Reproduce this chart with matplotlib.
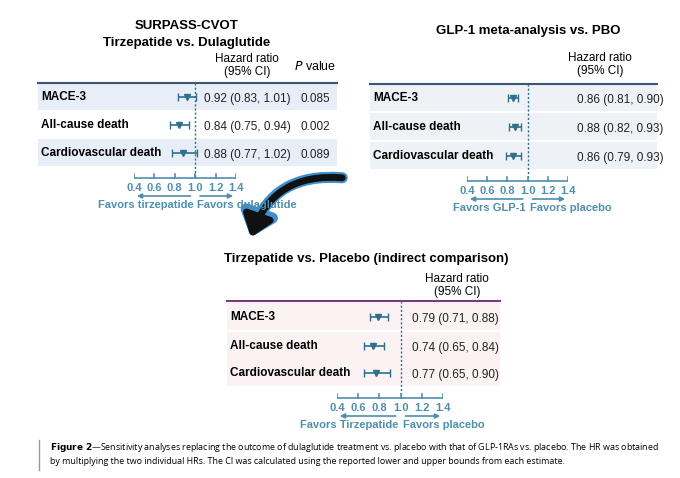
import matplotlib.pyplot as plt
from matplotlib.patches import Rectangle, FancyArrowPatch

W, H = 680, 478
outcomes = ["MACE-3", "All-cause death", "Cardiovascular death"]
hr1 = [0.92, 0.84, 0.88]; lo1 = [0.83, 0.75, 0.77]; hi1 = [1.01, 0.94, 1.02]; p1 = ["0.085", "0.002", "0.089"]
hr2 = [0.86, 0.88, 0.86]; lo2 = [0.81, 0.82, 0.79]; hi2 = [0.90, 0.93, 0.93]
hr3 = [0.79, 0.74, 0.77]; lo3 = [0.71, 0.65, 0.65]; hi3 = [0.88, 0.84, 0.90]
ticks = [0.4, 0.6, 0.8, 1.0, 1.2, 1.4]

fig = plt.figure(figsize=(6.8, 4.78), dpi=100)
bg = fig.add_axes([0, 0, 1, 1]); bg.set_xlim(0, W); bg.set_ylim(H, 0); bg.axis("off")
C = "#2f6f8c"; TC = "#4f8fae"; F = "Liberation Sans"

def panel(x0, x1, hx0, hx1, top, rows_y, hr, lo, hi, shade, linec, title, title_y, hrx, left_lab, right_lab, pvals=None, shade_rows=(0, 2)):
    bg.plot([x0, x1], [top, top], color=linec, lw=1.5)
    for i, y in enumerate(rows_y):
        if i in shade_rows:
            bg.add_patch(Rectangle((x0, y - 14), x1 - x0, 27, color=shade, lw=0))
        bg.text(x0 + 3, y, outcomes[i], fontsize=8.5, fontweight="bold", family=F, va="center")
        bg.text(hrx, y + 2, f"{hr[i]:.2f} ({lo[i]:.2f}, {hi[i]:.2f})", fontsize=8.5, family=F, va="center", ha="center", color="#222")
        if pvals:
            bg.text(x1 - 22, y + 2, pvals[i], fontsize=8.5, family=F, va="center", ha="center", color="#222")
    for t, y in title:
        bg.text(title_y, y, t, fontsize=9.5, fontweight="bold", family=F, ha="center", va="center")
    ax = fig.add_axes([hx0 / W, 0, (hx1 - hx0) / W, 1])
    ax.set_xlim(0.4, 1.4); ax.set_ylim(H, 0); ax.axis("off")
    ax.errorbar(hr, rows_y, xerr=[[h - l for h, l in zip(hr, lo)], [u - h for h, u in zip(hr, hi)]],
                fmt="v", color=C, ms=5, capsize=3, lw=1.2)
    ay = rows_y[-1] + 25
    ax.plot([1.0, 1.0], [top, ay], ls=(0, (1.5, 1.5)), color=C, lw=1)
    ax.plot([0.4, 1.4], [ay, ay], color=TC, lw=1.2)
    for t in ticks:
        ax.plot([t, t], [ay, ay - 4], color=TC, lw=1.2)
        ax.text(t, ay + 10, f"{t:.1f}", fontsize=8, fontweight="bold", color=TC, ha="center", va="center", family=F)
    ax.annotate("", xy=(0.4, ay + 18), xytext=(0.98, ay + 18), arrowprops=dict(arrowstyle="-|>", color=TC, lw=1.2, mutation_scale=7))
    ax.annotate("", xy=(1.4, ay + 18), xytext=(1.02, ay + 18), arrowprops=dict(arrowstyle="-|>", color=TC, lw=1.2, mutation_scale=7))
    ax.text(0.98, ay + 27, left_lab, fontsize=8, fontweight="bold", color=TC, ha="right", va="center", family=F)
    ax.text(1.02, ay + 27, right_lab, fontsize=8, fontweight="bold", color=TC, ha="left", va="center", family=F)

# Panel 1
panel(38, 337, 134, 236, 83, [97, 125, 153], hr1, lo1, hi1, "#e8eef7", "#3b5575",
      [("SURPASS-CVOT", 26), ("Tirzepatide vs. Dulaglutide", 43)], 187, 247,
      "Favors tirzepatide", "Favors dulaglutide", pvals=p1)
bg.text(247, 59, "Hazard ratio", fontsize=8.5, family=F, ha="center", va="center")
bg.text(247, 72, "(95% CI)", fontsize=8.5, family=F, ha="center", va="center")
bg.text(315, 66, "$\\it{P}$ value", fontsize=9, family=F, ha="center", va="center")

# Panel 2
panel(370, 657, 467, 568, 84, [98, 127, 156], hr2, lo2, hi2, "#eef1f6", "#3b5575",
      [("GLP-1 meta-analysis vs. PBO", 31)], 528, 620,
      "Favors GLP-1", "Favors placebo", shade_rows=(0, 1, 2))
bg.text(600, 58, "Hazard ratio", fontsize=8.5, family=F, ha="center", va="center")
bg.text(600, 71, "(95% CI)", fontsize=8.5, family=F, ha="center", va="center")

# Panel 3
panel(227, 500, 337, 443, 301, [317, 346, 373], hr3, lo3, hi3, "#fbf2f4", "#7b3a7c",
      [("Tirzepatide vs. Placebo (indirect comparison)", 259)], 366, 455,
      "Favors Tirzepatide", "Favors placebo", shade_rows=(0, 1, 2))
bg.text(457, 279, "Hazard ratio", fontsize=8.5, family=F, ha="center", va="center")
bg.text(457, 292, "(95% CI)", fontsize=8.5, family=F, ha="center", va="center")

# curved arrow
for lw, col, hw in [(8, "#3d8fd0", 1.0), (5, "#111", 0.9)]:
    bg.add_patch(FancyArrowPatch((345, 178), (250, 240), connectionstyle="arc3,rad=0.4",
                                 arrowstyle=f"-|>,head_width={hw},head_length=1.2", color=col, lw=lw, mutation_scale=10))

# caption
bg.plot([39, 39], [440, 470], color="#999", lw=1)
bg.text(50, 448, "$\\bf{Figure\\ 2}$—Sensitivity analyses replacing the outcome of dulaglutide treatment vs. placebo with that of GLP-1RAs vs. placebo. The HR was obtained",
        fontsize=6.4, family="Open Sans", va="center")
bg.text(50, 462, "by multiplying the two individual HRs. The CI was calculated using the reported lower and upper bounds from each estimate.",
        fontsize=6.4, family="Open Sans", va="center")
fig.savefig("out.png", dpi=100)
